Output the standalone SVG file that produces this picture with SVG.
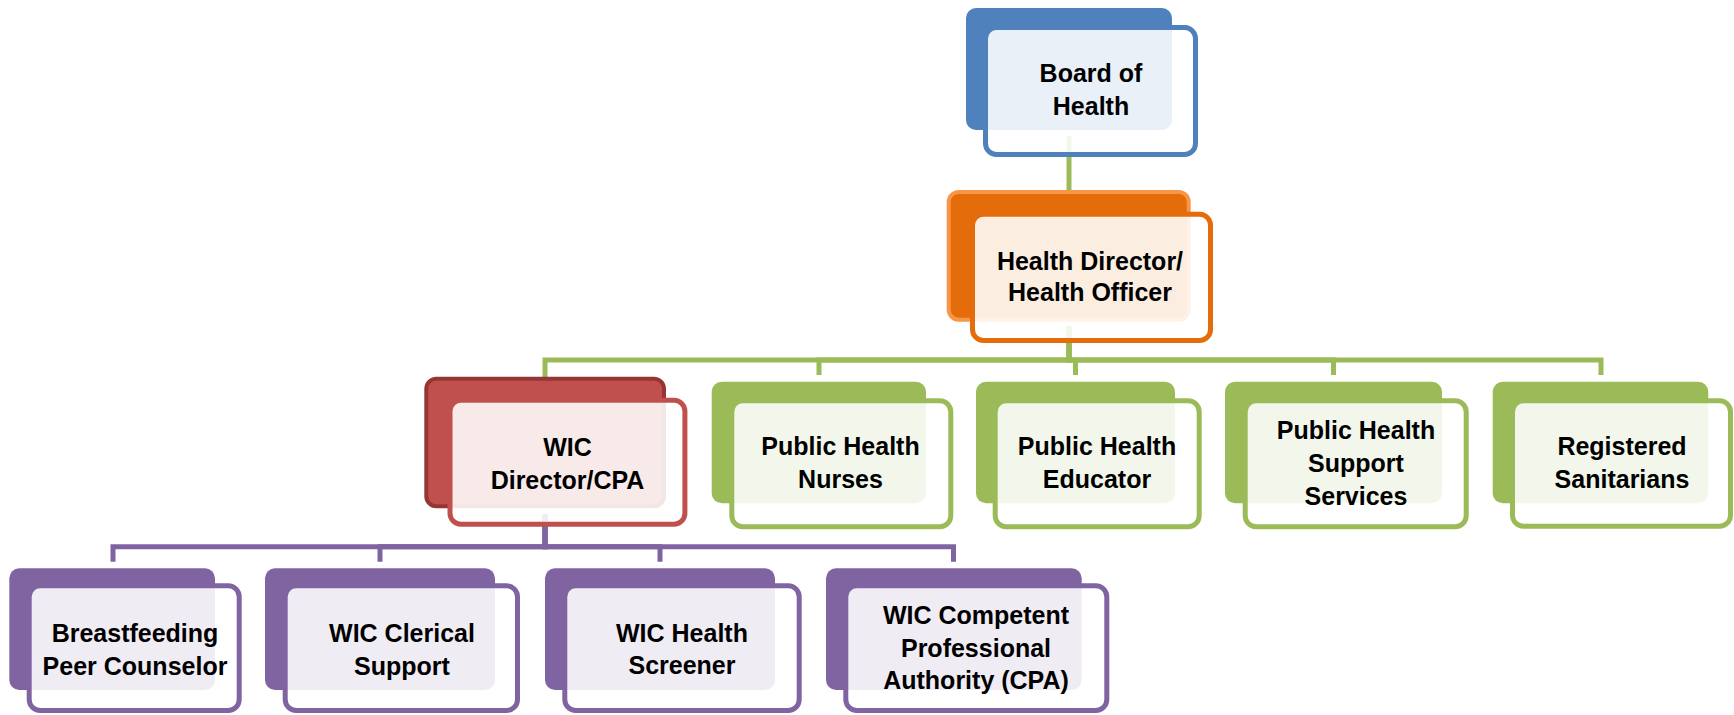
<svg xmlns="http://www.w3.org/2000/svg" width="1734" height="715" viewBox="0 0 1734 715">
<style>
.back{rx:10px;ry:10px}
.front{fill:#ffffff;fill-opacity:0.88;stroke-width:5}
.lbl{font-family:"Liberation Sans",Arial,sans-serif;font-weight:bold;font-size:25px;fill:#000;text-anchor:middle}
.g-back{fill:#9BBB59}
.g-front{stroke:#9BBB59}
.p-back{fill:#8064A2}
.p-front{stroke:#8064A2}
.conn-g{fill:none;stroke:#9BBB59;stroke-width:5}
.conn-p{fill:none;stroke:#8064A2;stroke-width:5}
</style>
<rect width="1734" height="715" fill="#ffffff"/>
<g id="connectors">
<path class="conn-g" d="M1069 136 V190"/>
<path class="conn-g" d="M1069 326 V360 H545 V377"/>
<path class="conn-g" d="M1069 326 V360 H819 V375"/>
<path class="conn-g" d="M1069 326 V360 H1075.5 V375"/>
<path class="conn-g" d="M1069 326 V360 H1333.5 V375"/>
<path class="conn-g" d="M1069 326 V360 H1601 V375"/>
<path class="conn-p" d="M545 514 V546.7 H113 V561.7"/>
<path class="conn-p" d="M545 514 V546.7 H380 V561.7"/>
<path class="conn-p" d="M545 514 V546.7 H660 V561.7"/>
<path class="conn-p" d="M545 514 V546.7 H953.5 V561.7"/>
</g>
<g id="board">
<rect class="back" x="966" y="8" width="206" height="122" fill="#4F81BD"/>
<rect class="front" x="985.5" y="27.5" width="210" height="127" rx="11" stroke="#4F81BD"/>
<text class="lbl" x="1091" y="82">Board of</text>
<text class="lbl" x="1091" y="115">Health</text>
</g>
<g id="director">
<rect class="back" x="948.7" y="192" width="240" height="127.7" fill="#E46C0A" stroke="#F79646" stroke-width="4"/>
<rect class="front" x="972.5" y="214.2" width="238" height="126.3" rx="11" stroke="#E46C0A"/>
<text class="lbl" x="1090" y="270">Health Director/</text>
<text class="lbl" x="1090" y="301">Health Officer</text>
</g>
<g id="wic-director">
<rect class="back" x="426.3" y="378.7" width="237.7" height="127.6" fill="#C0504D" stroke="#943634" stroke-width="4"/>
<rect class="front" x="450" y="400.2" width="234.9" height="124" rx="11" stroke="#C0504D"/>
<text class="lbl" x="567.5" y="456">WIC</text>
<text class="lbl" x="567.5" y="488.5">Director/CPA</text>
</g>
<g id="nurses">
<rect class="back g-back" x="711.7" y="381.7" width="214.3" height="121.6"/>
<rect class="front g-front" x="731.8" y="400.8" width="219" height="126" rx="11"/>
<text class="lbl" x="840.5" y="455">Public Health</text>
<text class="lbl" x="840.5" y="488">Nurses</text>
</g>
<g id="educator">
<rect class="back g-back" x="976" y="381.7" width="199" height="121.6"/>
<rect class="front g-front" x="995.2" y="400.8" width="204" height="126" rx="11"/>
<text class="lbl" x="1097" y="455">Public Health</text>
<text class="lbl" x="1097" y="488">Educator</text>
</g>
<g id="support">
<rect class="back g-back" x="1225" y="381.7" width="217" height="121.6"/>
<rect class="front g-front" x="1245.2" y="400.8" width="221" height="126" rx="11"/>
<text class="lbl" x="1356" y="439">Public Health</text>
<text class="lbl" x="1356" y="472">Support</text>
<text class="lbl" x="1356" y="504.5">Services</text>
</g>
<g id="sanitarians">
<rect class="back g-back" x="1492.7" y="381.7" width="215.6" height="121.6"/>
<rect class="front g-front" x="1512.5" y="400.8" width="218" height="125.5" rx="11"/>
<text class="lbl" x="1622" y="455">Registered</text>
<text class="lbl" x="1622" y="488">Sanitarians</text>
</g>
<g id="peer-counselor">
<rect class="back p-back" x="9.3" y="568.3" width="205.7" height="121.7"/>
<rect class="front p-front" x="29.2" y="585.8" width="210" height="124.7" rx="11"/>
<text class="lbl" x="135" y="642">Breastfeeding</text>
<text class="lbl" x="135" y="674.5">Peer Counselor</text>
</g>
<g id="clerical">
<rect class="back p-back" x="265" y="568.3" width="230" height="121.7"/>
<rect class="front p-front" x="285.2" y="585.8" width="232.3" height="124.7" rx="11"/>
<text class="lbl" x="402" y="642">WIC Clerical</text>
<text class="lbl" x="402" y="674.5">Support</text>
</g>
<g id="screener">
<rect class="back p-back" x="545" y="568.3" width="230" height="121.7"/>
<rect class="front p-front" x="564.8" y="585.8" width="234.4" height="124.7" rx="11"/>
<text class="lbl" x="682" y="642">WIC Health</text>
<text class="lbl" x="682" y="674">Screener</text>
</g>
<g id="cpa">
<rect class="back p-back" x="826" y="568.3" width="255.7" height="121.7"/>
<rect class="front p-front" x="845.8" y="585.8" width="261" height="124.7" rx="11"/>
<text class="lbl" x="976" y="623.5">WIC Competent</text>
<text class="lbl" x="976" y="656.5">Professional</text>
<text class="lbl" x="976" y="689">Authority (CPA)</text>
</g>
</svg>
